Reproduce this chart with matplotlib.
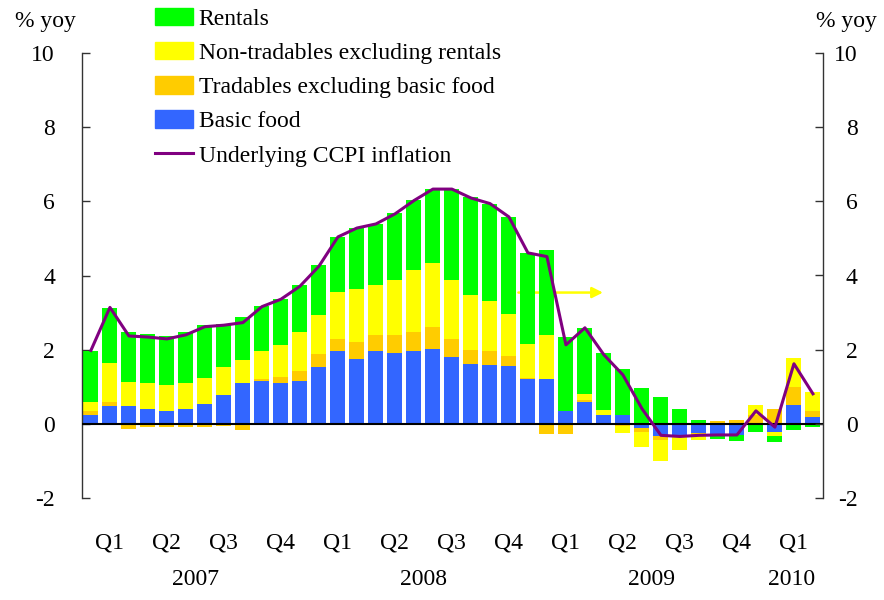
import matplotlib
matplotlib.use("Agg")
import matplotlib.pyplot as plt
from matplotlib.patches import Patch
from matplotlib.lines import Line2D
import numpy as np

plt.rcParams['font.family'] = ['Liberation Serif', 'DejaVu Serif']

# monthly, Jan 2007 .. Mar 2010 (percentage point contributions, % yoy)
months = np.arange(39)
basic_food = [0.23, 0.48, 0.48, 0.40, 0.34, 0.40, 0.53, 0.77, 1.10, 1.15,
              1.10, 1.15, 1.53, 1.96, 1.74, 1.96, 1.91, 1.96, 2.01, 1.80,
              1.62, 1.59, 1.56, 1.21, 1.21, 0.35, 0.59, 0.24, 0.24, -0.11,
              -0.32, -0.30, -0.24, -0.27, -0.30, 0.00, -0.22, 0.51, 0.19]
tradables = [0.11, 0.10, -0.13, -0.08, -0.08, -0.08, -0.08, -0.05, -0.16, 0.05,
             0.16, 0.27, 0.35, 0.32, 0.46, 0.43, 0.48, 0.51, 0.60, 0.48,
             0.38, 0.38, 0.27, 0.03, -0.27, -0.27, 0.05, 0.00, -0.07, -0.11,
             -0.11, -0.03, -0.08, 0.08, 0.11, 0.25, 0.40, 0.49, 0.16]
non_tradables = [0.24, 1.06, 0.64, 0.70, 0.70, 0.70, 0.70, 0.76, 0.62, 0.76,
                 0.86, 1.05, 1.05, 1.27, 1.43, 1.35, 1.49, 1.68, 1.72, 1.60,
                 1.48, 1.35, 1.13, 0.92, 1.19, 0.00, 0.16, 0.14, -0.17, -0.40,
                 -0.58, -0.38, -0.11, 0.00, 0.00, 0.26, -0.11, 0.78, 0.51]
rentals = [1.38, 1.48, 1.35, 1.32, 1.33, 1.37, 1.43, 1.16, 1.16, 1.21,
           1.24, 1.27, 1.35, 1.49, 1.65, 1.65, 1.80, 1.88, 2.00, 2.45,
           2.64, 2.62, 2.62, 2.46, 2.29, 2.00, 1.78, 1.54, 1.24, 0.97,
           0.73, 0.40, 0.11, -0.13, -0.16, -0.21, -0.16, -0.16, -0.08]
underlying = [1.98, 3.14, 2.37, 2.34, 2.29, 2.40, 2.62, 2.66, 2.73, 3.16,
              3.36, 3.71, 4.25, 5.04, 5.28, 5.39, 5.66, 6.02, 6.33, 6.33,
              6.09, 5.94, 5.58, 4.61, 4.51, 2.13, 2.59, 1.86, 1.32, 0.41,
              -0.31, -0.34, -0.31, -0.30, -0.30, 0.35, -0.09, 1.62, 0.81]

quarter_pos = [1, 4, 7, 10, 13, 16, 19, 22, 25, 28, 31, 34, 37]
quarter_labels = ['Q1', 'Q2', 'Q3', 'Q4'] * 3 + ['Q1']
year_pos = [5.5, 17.5, 29.5, 36.9]
year_labels = ['2007', '2008', '2009', '2010']
yticks = [-2, 0, 2, 4, 6, 8, 10]

series = [
    (basic_food, '#3366FF', 'Basic food'),
    (tradables, '#FFCC00', 'Tradables excluding basic food'),
    (non_tradables, '#FFFF00', 'Non-tradables excluding rentals'),
    (rentals, '#00FF00', 'Rentals'),
]

FS = 17

fig = plt.figure(figsize=(8.84, 6.0), dpi=100)
ax = fig.add_axes([82 / 884, 1 - 498 / 600, (823 - 82) / 884, (498 - 53) / 600])

# stack positives upward and negatives downward separately
pos_base = np.zeros(len(months))
neg_base = np.zeros(len(months))
for vals, color, _ in series:
    v = np.asarray(vals)
    bottom = np.where(v >= 0, pos_base, neg_base)
    ax.bar(months, v, bottom=bottom, width=0.79, color=color, linewidth=0, zorder=2)
    pos_base += np.clip(v, 0, None)
    neg_base += np.clip(v, None, 0)

ax.axhline(0, color='black', lw=1.5, zorder=3)
ax.plot(months, underlying, color='#800080', lw=2.2, zorder=4)

# arrow pointing to the right-hand scale
ax.annotate('', xy=(26.95, 3.54), xytext=(22.5, 3.54),
            arrowprops=dict(arrowstyle='-|>', color='#FFFF00', lw=1.8,
                            mutation_scale=16, shrinkA=0, shrinkB=0),
            zorder=1)

ax.set_xlim(-0.47, 38.53)
ax.set_ylim(-2, 10)
ax.set_yticks(yticks)
ax.set_yticklabels([str(t) for t in yticks])
ax.set_xticks([])
for s in ['top', 'bottom']:
    ax.spines[s].set_visible(False)
for s in ['left', 'right']:
    ax.spines[s].set_color('#333333')
    ax.spines[s].set_linewidth(1.0)
ax.tick_params(axis='y', direction='in', length=6, width=1.0, pad=19.5,
               labelsize=FS, colors='#333333', labelcolor='black')

ax2 = ax.twinx()
ax2.set_ylim(-2, 10)
ax2.set_yticks(yticks)
ax2.set_yticklabels([str(t) for t in yticks], ha='right')
for s in ['top', 'bottom', 'left', 'right']:
    ax2.spines[s].set_visible(False)
ax2.tick_params(axis='y', direction='in', length=6, width=1.0, pad=25,
                labelsize=FS, colors='#333333', labelcolor='black')

tr = ax.get_xaxis_transform()
for p, lab in zip(quarter_pos, quarter_labels):
    ax.text(p, -0.101, lab, transform=tr, ha='center', va='center', fontsize=FS)
for p, lab in zip(year_pos, year_labels):
    ax.text(p, -0.184, lab, transform=tr, ha='center', va='center', fontsize=FS)

fig.text(15 / 884, 1 - 22 / 600, '% yoy', ha='left', va='center', fontsize=FS)
fig.text(877 / 884, 1 - 22 / 600, '% yoy', ha='right', va='center', fontsize=FS)

handles = [Patch(color=c) for _, c, _ in series[::-1]]
labels = [lab for _, _, lab in series[::-1]]
handles.append(Line2D([], [], color='#800080', lw=2.2))
labels.append('Underlying CCPI inflation')
fig.legend(handles, labels, loc='upper left', bbox_to_anchor=(155 / 884, 1 - 8 / 600),
           frameon=False, fontsize=FS, handlelength=1.6, handleheight=0.75,
           handletextpad=0.25, labelspacing=0.52, borderpad=0, borderaxespad=0)

fig.savefig('out.png', dpi=100)
